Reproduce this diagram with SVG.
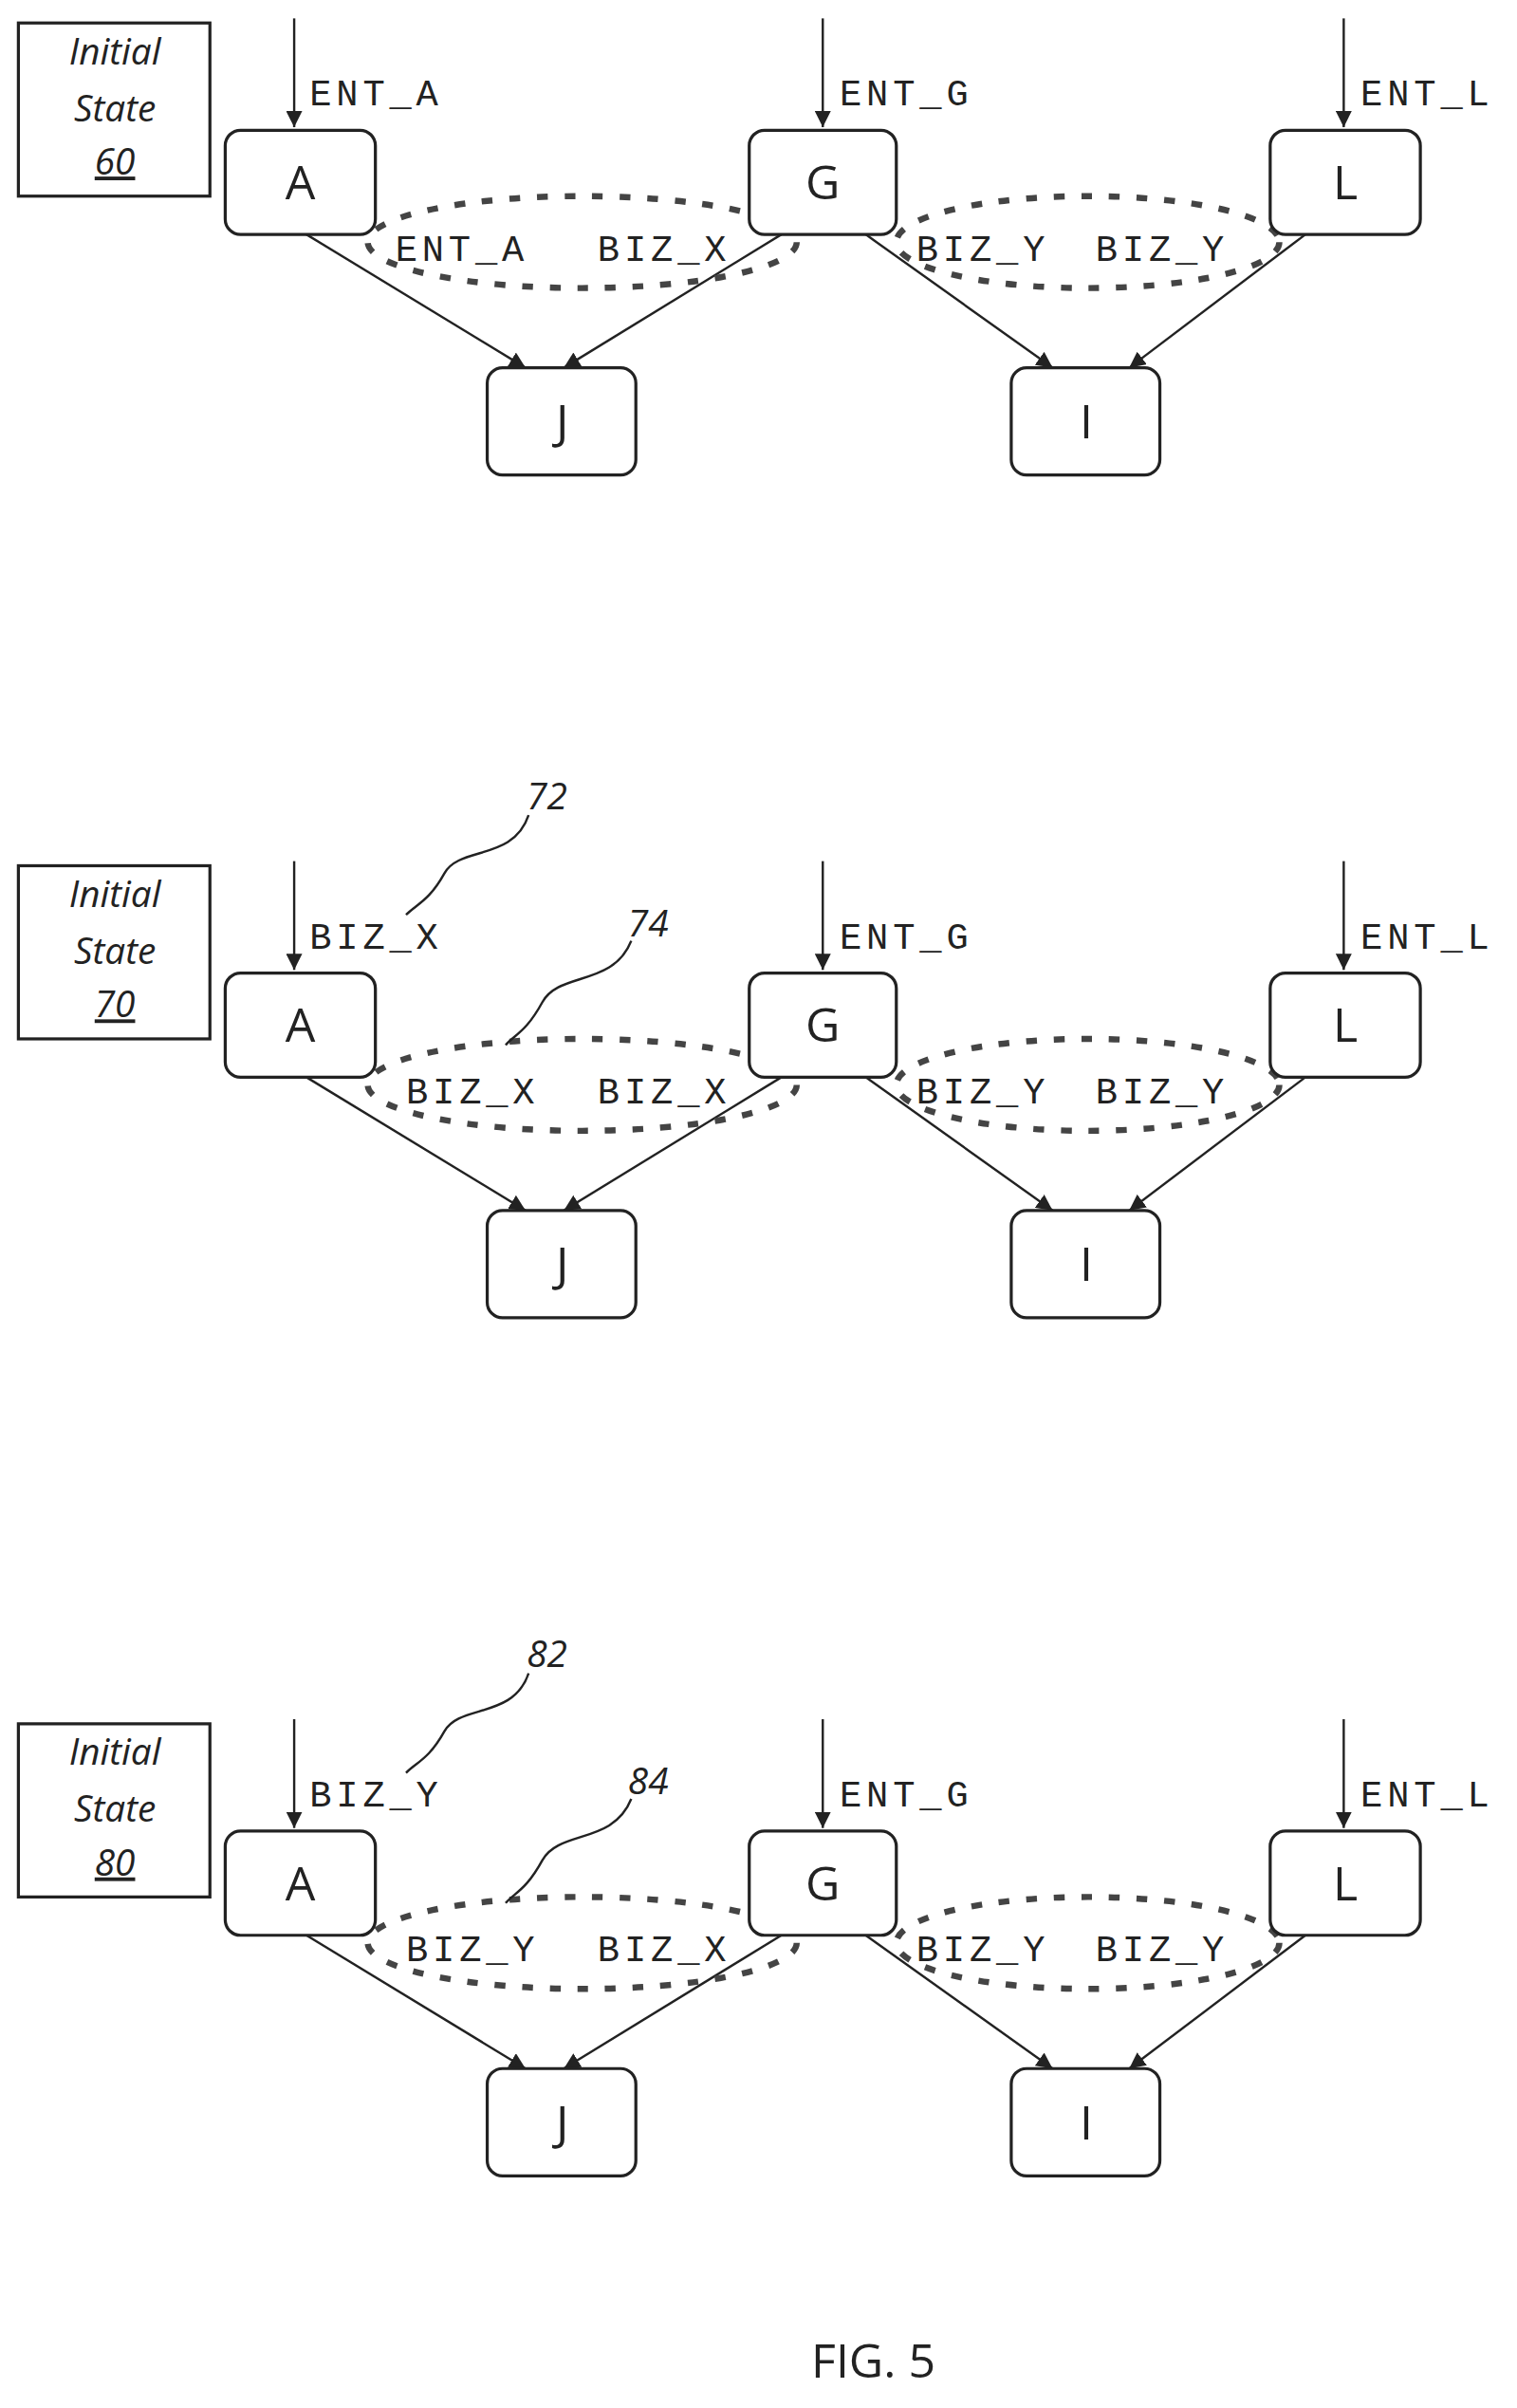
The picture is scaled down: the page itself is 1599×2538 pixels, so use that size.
<svg xmlns="http://www.w3.org/2000/svg" width="1599" height="2538" viewBox="0 0 1599 2538">
<style>
.n{fill:#fff;stroke:#222;stroke-width:2}
.nt{font-family:"Open Sans",sans-serif;font-size:31px;text-anchor:middle;fill:#222}
.lb{font-family:"Liberation Mono",monospace;font-size:24px;letter-spacing:3px;fill:#222}
.st{font-family:"Open Sans",sans-serif;font-style:italic;font-size:24px;text-anchor:middle;fill:#222}
.e{fill:none;stroke:#222;stroke-width:1.5}
.el{fill:none;stroke:#444;stroke-width:4;stroke-dasharray:7 11}
.c{fill:none;stroke:#222;stroke-width:1.5}
</style>
<defs><marker id="ar" viewBox="0 0 10 10" refX="10" refY="5" markerWidth="7" markerHeight="7" orient="auto"><path d="M0,0 L10,5 L0,10 Z" fill="#222"/></marker></defs>
<rect width="1599" height="2538" fill="#fff"/>
<g transform="scale(1.615)">
<!-- Section 1 -->
<g id="state60"><rect x="12" y="15" width="125" height="113" class="n"/><text x="75" y="42" class="st">Initial</text><text x="75" y="79" class="st">State</text><text x="75" y="114" class="st" text-decoration="underline">60</text></g>
<g id="s1-connectors">
<line x1="192" y1="12" x2="192" y2="83" class="e" marker-end="url(#ar)"/>
<line x1="537" y1="12" x2="537" y2="83" class="e" marker-end="url(#ar)"/>
<line x1="877" y1="12" x2="877" y2="83" class="e" marker-end="url(#ar)"/>
<line x1="200" y1="153" x2="343" y2="240" class="e" marker-end="url(#ar)"/>
<line x1="510" y1="153" x2="368" y2="240" class="e" marker-end="url(#ar)"/>
<line x1="565" y1="153" x2="687" y2="240" class="e" marker-end="url(#ar)"/>
<line x1="852" y1="153" x2="737" y2="240" class="e" marker-end="url(#ar)"/>
<ellipse cx="380" cy="158" rx="140" ry="30" class="el"/>
<ellipse cx="710" cy="158" rx="125" ry="30" class="el"/>
<text x="202" y="69" class="lb">ENT_A</text><text x="548" y="69" class="lb">ENT_G</text><text x="888" y="69" class="lb">ENT_L</text>
<text x="258" y="170" class="lb">ENT_A</text><text x="390" y="170" class="lb">BIZ_X</text>
<text x="598" y="170" class="lb">BIZ_Y</text><text x="715" y="170" class="lb">BIZ_Y</text>
</g>
<g id="s1-A"><rect x="147" y="85" width="98" height="68" rx="10" class="n"/><text x="196" y="130" class="nt">A</text></g>
<g id="s1-G"><rect x="489" y="85" width="96" height="68" rx="10" class="n"/><text x="537" y="130" class="nt">G</text></g>
<g id="s1-L"><rect x="829" y="85" width="98" height="68" rx="10" class="n"/><text x="878" y="130" class="nt">L</text></g>
<g id="s1-J"><rect x="318" y="240" width="97" height="70" rx="10" class="n"/><text x="367" y="286" class="nt">J</text></g>
<g id="s1-I"><rect x="660" y="240" width="97" height="70" rx="10" class="n"/><text x="709" y="286" class="nt">I</text></g>

<!-- Section 2 -->
<g id="state70"><rect x="12" y="565" width="125" height="113" class="n"/><text x="75" y="592" class="st">Initial</text><text x="75" y="629" class="st">State</text><text x="75" y="664" class="st" text-decoration="underline">70</text></g>
<g id="s2-connectors">
<line x1="192" y1="562" x2="192" y2="633" class="e" marker-end="url(#ar)"/>
<line x1="537" y1="562" x2="537" y2="633" class="e" marker-end="url(#ar)"/>
<line x1="877" y1="562" x2="877" y2="633" class="e" marker-end="url(#ar)"/>
<line x1="200" y1="703" x2="343" y2="790" class="e" marker-end="url(#ar)"/>
<line x1="510" y1="703" x2="368" y2="790" class="e" marker-end="url(#ar)"/>
<line x1="565" y1="703" x2="687" y2="790" class="e" marker-end="url(#ar)"/>
<line x1="852" y1="703" x2="737" y2="790" class="e" marker-end="url(#ar)"/>
<ellipse cx="380" cy="708" rx="140" ry="30" class="el"/>
<ellipse cx="710" cy="708" rx="125" ry="30" class="el"/>
<text x="202" y="619" class="lb">BIZ_X</text><text x="548" y="619" class="lb">ENT_G</text><text x="888" y="619" class="lb">ENT_L</text>
<text x="265" y="720" class="lb">BIZ_X</text><text x="390" y="720" class="lb">BIZ_X</text>
<text x="598" y="720" class="lb">BIZ_Y</text><text x="715" y="720" class="lb">BIZ_Y</text>
<path d="M345,532 C335,562 300,552 290,570 S272,590 265,597" class="c"/>
<path d="M412,614 C400,644 365,634 354,654 S336,675 330,682" class="c"/>
<text x="357" y="528" class="st" font-style="normal" font-size="23">72</text>
<text x="423" y="611" class="st" font-style="normal" font-size="23">74</text>
</g>
<g id="s2-A"><rect x="147" y="635" width="98" height="68" rx="10" class="n"/><text x="196" y="680" class="nt">A</text></g>
<g id="s2-G"><rect x="489" y="635" width="96" height="68" rx="10" class="n"/><text x="537" y="680" class="nt">G</text></g>
<g id="s2-L"><rect x="829" y="635" width="98" height="68" rx="10" class="n"/><text x="878" y="680" class="nt">L</text></g>
<g id="s2-J"><rect x="318" y="790" width="97" height="70" rx="10" class="n"/><text x="367" y="836" class="nt">J</text></g>
<g id="s2-I"><rect x="660" y="790" width="97" height="70" rx="10" class="n"/><text x="709" y="836" class="nt">I</text></g>

<!-- Section 3 -->
<g id="state80"><rect x="12" y="1125" width="125" height="113" class="n"/><text x="75" y="1152" class="st">Initial</text><text x="75" y="1189" class="st">State</text><text x="75" y="1224" class="st" text-decoration="underline">80</text></g>
<g id="s3-connectors">
<line x1="192" y1="1122" x2="192" y2="1193" class="e" marker-end="url(#ar)"/>
<line x1="537" y1="1122" x2="537" y2="1193" class="e" marker-end="url(#ar)"/>
<line x1="877" y1="1122" x2="877" y2="1193" class="e" marker-end="url(#ar)"/>
<line x1="200" y1="1263" x2="343" y2="1350" class="e" marker-end="url(#ar)"/>
<line x1="510" y1="1263" x2="368" y2="1350" class="e" marker-end="url(#ar)"/>
<line x1="565" y1="1263" x2="687" y2="1350" class="e" marker-end="url(#ar)"/>
<line x1="852" y1="1263" x2="737" y2="1350" class="e" marker-end="url(#ar)"/>
<ellipse cx="380" cy="1268" rx="140" ry="30" class="el"/>
<ellipse cx="710" cy="1268" rx="125" ry="30" class="el"/>
<text x="202" y="1179" class="lb">BIZ_Y</text><text x="548" y="1179" class="lb">ENT_G</text><text x="888" y="1179" class="lb">ENT_L</text>
<text x="265" y="1280" class="lb">BIZ_Y</text><text x="390" y="1280" class="lb">BIZ_X</text>
<text x="598" y="1280" class="lb">BIZ_Y</text><text x="715" y="1280" class="lb">BIZ_Y</text>
<path d="M345,1092 C335,1122 300,1112 290,1130 S272,1150 265,1157" class="c"/>
<path d="M412,1174 C400,1204 365,1194 354,1214 S336,1235 330,1242" class="c"/>
<text x="357" y="1088" class="st" font-style="normal" font-size="23">82</text>
<text x="423" y="1171" class="st" font-style="normal" font-size="23">84</text>
</g>
<g id="s3-A"><rect x="147" y="1195" width="98" height="68" rx="10" class="n"/><text x="196" y="1240" class="nt">A</text></g>
<g id="s3-G"><rect x="489" y="1195" width="96" height="68" rx="10" class="n"/><text x="537" y="1240" class="nt">G</text></g>
<g id="s3-L"><rect x="829" y="1195" width="98" height="68" rx="10" class="n"/><text x="878" y="1240" class="nt">L</text></g>
<g id="s3-J"><rect x="318" y="1350" width="97" height="70" rx="10" class="n"/><text x="367" y="1396" class="nt">J</text></g>
<g id="s3-I"><rect x="660" y="1350" width="97" height="70" rx="10" class="n"/><text x="709" y="1396" class="nt">I</text></g>

<text x="570" y="1552" class="nt" font-size="38">FIG. 5</text>
</g>
</svg>
